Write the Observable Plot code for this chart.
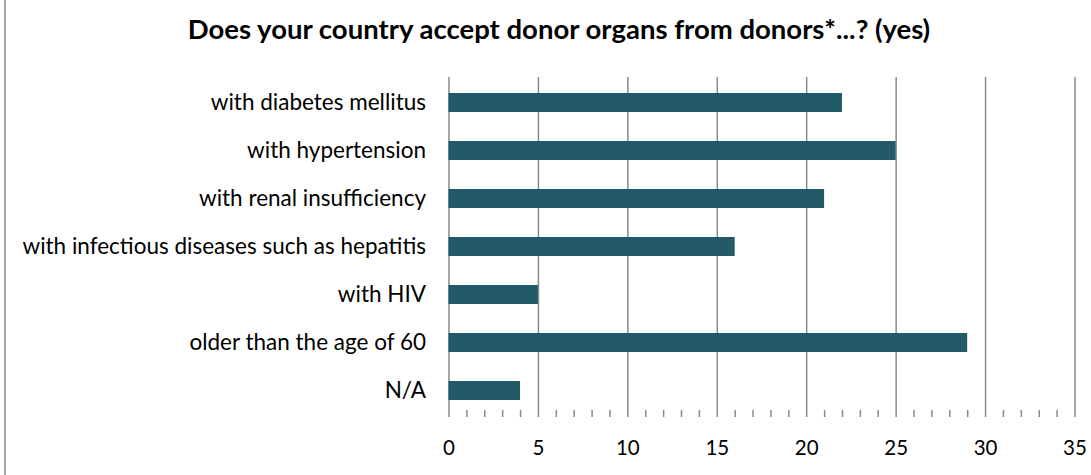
<!DOCTYPE html>
<html><head><meta charset="utf-8">
<script src="https://cdn.jsdelivr.net/npm/d3@7"></script>
<script src="https://cdn.jsdelivr.net/npm/@observablehq/plot@0.6"></script>
<style>
body{margin:0;background:#fff;}
#wrap{position:relative;width:1085px;height:475px;margin-left:4px;border-left:2px solid #a6a6a6;background:#fff;}
#title{width:1085px;height:62px;box-sizing:border-box;padding-left:21px;text-align:center;font-family:Lato,"Open Sans",sans-serif;font-weight:bold;font-size:27.5px;line-height:58px;color:#000;white-space:nowrap;}
</style></head>
<body>
<div id="wrap"><div id="title">Does your country accept donor organs from donors*...? (yes)</div><div id="chart"></div></div>
<script>
const categories = [
  "with diabetes mellitus",
  "with hypertension",
  "with renal insufficiency",
  "with infectious diseases such as hepatitis",
  "with HIV",
  "older than the age of 60",
  "N/A"
];
const values = [22, 25, 21, 16, 5, 29, 4];
const majorTicks = [0, 5, 10, 15, 20, 25, 30, 35];
const minorTicks = d3.range(0, 36).filter(v => v % 5 !== 0);

const data = categories.map((c, i) => ({category: c, value: values[i]}));

const chart = Plot.plot({
  width: 1085,
  height: 413,
  marginTop: 15,
  marginBottom: 58,
  marginLeft: 442.5,
  marginRight: 16.5,
  style: {fontFamily: "Lato, 'Open Sans', sans-serif", fontSize: "22.5px", color: "#000", background: "#fff", overflow: "visible"},
  x: {domain: [0, 35], label: null},
  y: {domain: categories, label: null, paddingInner: 0.6, paddingOuter: 0.3},
  marks: [
    Plot.gridX(majorTicks, {stroke: "#8a8a8a", strokeOpacity: 1, strokeWidth: 1.5}),
    Plot.barX(data, {x: "value", y: "category", fill: "#235A68"}),
    Plot.axisX(minorTicks, {tickSize: -7, text: null, stroke: "#8a8a8a", strokeWidth: 1.5}),
    Plot.axisX(majorTicks, {tickSize: 0, text: null, line: true, stroke: "#8a8a8a", strokeWidth: 1.5}),
    Plot.text(majorTicks, {x: d => d, text: d => String(d), frameAnchor: "bottom", dy: 31, lineAnchor: "middle", fontSize: 20.5, fill: "#000"}),
    Plot.axisY({tickSize: 0, tickPadding: 23, fontSize: 22.5, fill: "#000"})
  ]
});
document.getElementById("chart").appendChild(chart);
</script>
</body></html>
